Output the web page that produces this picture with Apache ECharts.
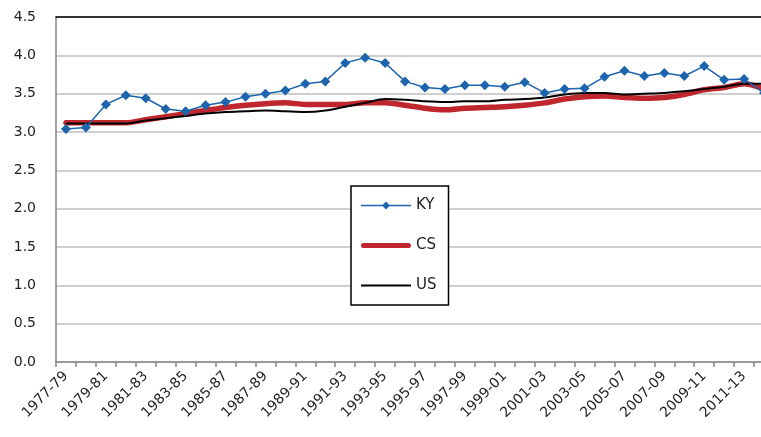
<!DOCTYPE html>
<html>
<head>
<meta charset="utf-8">
<script src="https://cdn.jsdelivr.net/npm/echarts@6/dist/echarts.min.js"></script>
<style>
html,body{margin:0;padding:0;background:#fff;}
#chart{width:761px;height:437px;}
</style>
</head>
<body>
<div id="chart"></div>
<script>
var categories = ['1977-79','1978-80','1979-81','1980-82','1981-83','1982-84','1983-85','1984-86','1985-87','1986-88',
  '1987-89','1988-90','1989-91','1990-92','1991-93','1992-94','1993-95','1994-96','1995-97','1996-98',
  '1997-99','1998-00','1999-01','2000-02','2001-03','2002-04','2003-05','2004-06','2005-07','2006-08',
  '2007-09','2008-10','2009-11','2010-12','2011-13','2012-14'];
var kyValues = [3.04,3.06,3.36,3.48,3.44,3.30,3.27,3.35,3.39,3.46,
  3.50,3.54,3.63,3.66,3.90,3.97,3.90,3.66,3.58,3.56,
  3.61,3.61,3.59,3.65,3.51,3.56,3.57,3.72,3.80,3.73,
  3.77,3.73,3.86,3.68,3.69,3.51];
var csValues = [3.12,3.12,3.12,3.12,3.16,3.20,3.24,3.28,3.32,3.35,
  3.37,3.38,3.36,3.36,3.36,3.38,3.38,3.35,3.31,3.29,
  3.31,3.32,3.33,3.35,3.38,3.43,3.46,3.47,3.45,3.44,
  3.45,3.49,3.55,3.58,3.63,3.56];
var usValues = [3.11,3.11,3.11,3.11,3.15,3.18,3.21,3.24,3.26,3.27,
  3.28,3.27,3.26,3.28,3.33,3.38,3.43,3.42,3.40,3.39,
  3.40,3.40,3.42,3.43,3.45,3.49,3.51,3.51,3.49,3.50,
  3.51,3.53,3.56,3.59,3.63,3.63];
var yTicks = {min: 0, max: 4.5, interval: 0.5};

var chart = echarts.init(document.getElementById('chart'), null, {renderer: 'canvas'});
var font = 'DejaVu Sans';
chart.setOption({
  animation: false,
  backgroundColor: '#ffffff',
  grid: {left: 56, top: 17, height: 345, width: 718, containLabel: false, outerBoundsMode: 'none'},
  legend: {
    orient: 'vertical',
    left: 351, top: 186,
    padding: [12, 12, 12, 10],
    itemGap: 25,
    itemWidth: 50, itemHeight: 14,
    symbolKeepAspect: true,
    borderColor: '#000', borderWidth: 1.5,
    backgroundColor: '#ffffff',
    textStyle: {fontFamily: font, fontSize: 15, color: '#222'},
    data: [
      {name: 'KY', icon: 'path://M0,6.25L50,6.25L50,7.75L0,7.75Z M25,3L29,7L25,11L21,7Z'},
      {name: 'CS', icon: 'path://M2.5,0L47.5,0A2.5,2.5,0,0,1,47.5,5L2.5,5A2.5,2.5,0,0,1,2.5,0Z'},
      {name: 'US', icon: 'path://M0,0L50,0L50,2L0,2Z'}
    ]
  },
  xAxis: [{
    type: 'category',
    data: categories,
    boundaryGap: true,
    axisLine: {lineStyle: {color: '#868686', width: 1.5}},
    axisTick: {show: true, interval: 0, length: 5, lineStyle: {color: '#868686', width: 1.5}},
    axisLabel: {interval: 1, rotate: 45, fontFamily: font, fontSize: 14, color: '#222', margin: 12},
    splitLine: {show: false}
  }, {
    type: 'category',
    position: 'top',
    data: categories,
    axisLine: {lineStyle: {color: '#000', width: 1.5}},
    axisTick: {show: false},
    axisLabel: {show: false}
  }],
  yAxis: {
    type: 'value',
    min: yTicks.min, max: yTicks.max, interval: yTicks.interval,
    axisLine: {show: true, lineStyle: {color: '#868686', width: 1.5}},
    axisTick: {show: false},
    axisLabel: {fontFamily: font, fontSize: 14, color: '#222', margin: 20,
      formatter: function (v) { return v.toFixed(1); }},
    splitLine: {lineStyle: {color: '#bfbfbf', width: 1.5}}
  },
  series: [{
    name: 'US',
    type: 'line',
    data: usValues,
    smooth: 0.3,
    symbol: 'none',
    lineStyle: {color: '#000', width: 2},
    itemStyle: {color: '#000'},
    z: 3
  }, {
    name: 'CS',
    type: 'line',
    data: csValues,
    smooth: 0.3,
    symbol: 'none',
    lineStyle: {color: '#c0262d', width: 5.5, cap: 'round'},
    itemStyle: {color: '#c0262d'},
    z: 2
  }, {
    name: 'KY',
    type: 'line',
    data: kyValues,
    symbol: 'diamond',
    symbolSize: 10,
    lineStyle: {color: '#1c64ae', width: 1.5},
    itemStyle: {color: '#1c64ae'},
    z: 4
  }]
});
</script>
</body>
</html>
